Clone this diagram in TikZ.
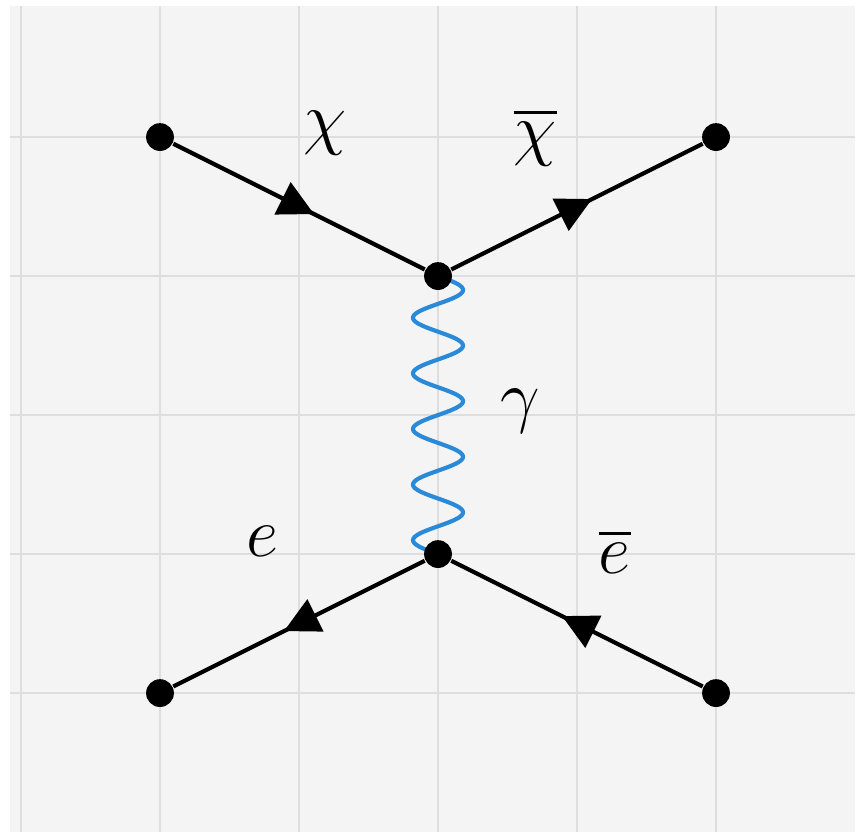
\documentclass[tikz,border=0pt]{standalone}
\usepackage{amsmath}
\usepackage{xcolor}
\usepackage{tikz}
\usetikzlibrary{arrows.meta,decorations.markings,backgrounds}

\definecolor{panelgray}{HTML}{F4F4F4}
\definecolor{gridgray}{HTML}{DEDEDE}
\definecolor{photonblue}{HTML}{2A8AD8}

\begin{document}
\begin{tikzpicture}[
    every node/.style={font=\fontsize{13.5}{16}\selectfont},
    vertex/.style={circle,fill=black,minimum size=0.2cm,inner sep=0pt},
    fermion/.style={line width=0.85pt,postaction={decorate},
        decoration={markings,mark=at position 0.56 with {\arrow{Triangle[length=7.2pt,width=7.2pt]}}}},
    photon/.style={line width=0.85pt,photonblue,line join=round},
    gridline/.style={gridgray,line width=0.45pt},
]
    \useasboundingbox (-0.151,-1.014) rectangle (6.014,4.986);

    % vertices
    \node[vertex] (xin) at (1,4) {};
    \node[vertex] (xout) at (5,4) {};
    \node[vertex] (top) at (3,3) {};
    \node[vertex] (bot) at (3,1) {};
    \node[vertex] (eout) at (1,0) {};
    \node[vertex] (ein) at (5,0) {};

    % background and grid
    \begin{scope}[on background layer]
        \fill[panelgray] (-0.08,-1.0) rectangle (6.0,4.94);
        \foreach \x in {0,...,5}
            \draw[gridline] (\x,-1.0) -- (\x,4.94);
        \foreach \y in {0,...,4}
            \draw[gridline] (-0.08,\y) -- (6.0,\y);
        % photon line, five full waves from top down to bot
        \draw[photon,shift={(top.center)}]
            plot[domain=0:2,samples=201,smooth] ({0.18*sin(900*\x)},{-\x});
    \end{scope}

    % fermion lines
    \draw[fermion] (xin) -- (top);
    \draw[fermion] (top) -- (xout);
    \draw[fermion] (bot) -- (eout);
    \draw[fermion] (ein) -- (bot);

    % labels
    \node (chi) at (2.19,4.03) {$\chi$};
    \node (chibar) at (3.70,4.0) {$\overline{\chi}$};
    \node (gam) at (3.59,2.03) {$\gamma$};
    \node (el) at (1.74,1.09) {$e$};
    \node (ebar) at (4.27,1.02) {$\overline{e}$};
\end{tikzpicture}
\end{document}
